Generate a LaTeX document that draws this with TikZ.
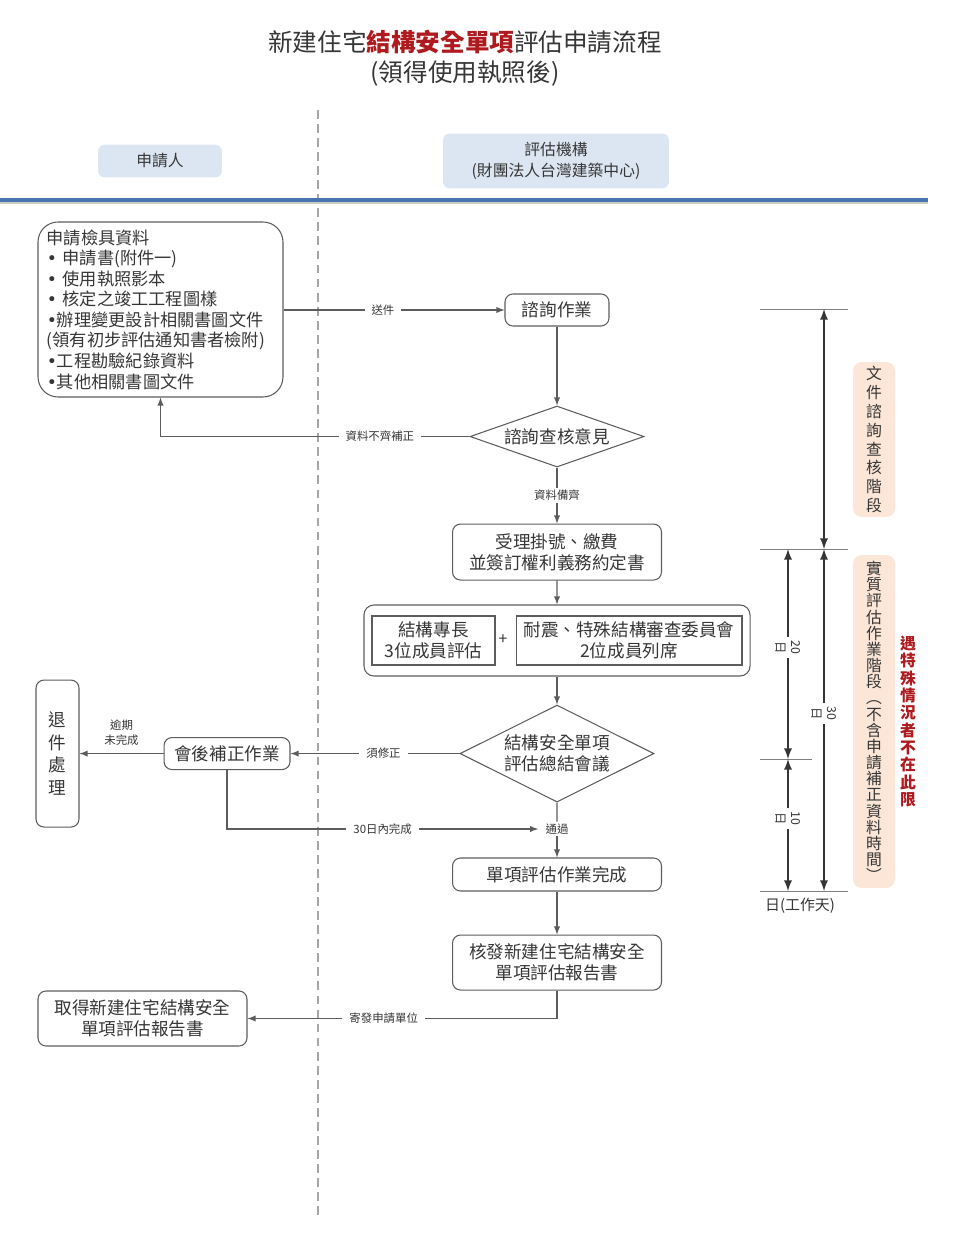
\documentclass[tikz,border=0pt]{standalone}
\usepackage{fontspec}
\setmainfont{Noto Sans CJK TC}
\newfontfamily\bulletfont{DejaVu Sans}
\newcommand{\bul}{{\bulletfont •}}
\usetikzlibrary{shapes.geometric, arrows, positioning, fit}
\definecolor{inkgray}{HTML}{363636}
\definecolor{linegray}{HTML}{5C5C5C}
\definecolor{laneblue}{HTML}{DCE6F2}
\definecolor{ruleblue}{HTML}{4A76B0}
\definecolor{phasepeach}{HTML}{FBE6D8}
\definecolor{alertred}{HTML}{AE1A1E}
\tikzstyle{lanehead} = [rectangle, rounded corners=4pt, fill=laneblue, text=inkgray, align=center, font=\fontsize{9}{12}\selectfont]
\tikzstyle{process} = [rectangle, rounded corners=0.16cm, draw=linegray, line width=0.6pt, text=inkgray, align=center, inner sep=0pt, font=\fontsize{10}{12}\selectfont]
\tikzstyle{member} = [rectangle, draw=linegray, line width=0.6pt, text=inkgray, align=center, inner sep=0pt, minimum height=0.98cm, font=\fontsize{10}{12}\selectfont]
\tikzstyle{decision} = [diamond, draw=linegray, line width=0.6pt, text=inkgray, align=center, inner sep=0pt, font=\fontsize{10}{12}\selectfont]
\tikzstyle{arrow} = [line width=0.6pt, draw=linegray, ->, >=latex]
\tikzstyle{flowlabel} = [fill=white, text=inkgray, inner xsep=4pt, inner ysep=1pt, align=center, font=\fontsize{6.5}{8.5}\selectfont]
\tikzstyle{dayspan} = [line width=1.1pt, draw=inkgray, <->, >=latex]
\tikzstyle{daytick} = [line width=0.5pt, draw=gray]
\tikzstyle{daylabel} = [fill=white, rotate=-90, text=inkgray, align=center, inner sep=2pt, font=\fontsize{7}{8}\selectfont]
\tikzstyle{phase} = [rectangle, rounded corners=5pt, fill=phasepeach, text=inkgray, align=center, minimum width=0.84cm, inner ysep=0pt]

\begin{document}
\begin{tikzpicture}[x=0.02cm, y=-0.02cm]
\useasboundingbox (0,0) rectangle (957,1253);

% Title
\node (title) [align=center, text=inkgray, font=\fontsize{14}{17}\selectfont] at (465,58)
    {新建住宅{\bfseries\color{alertred}結構安全單項}評估申請流程\\(領得使用執照後)};

% Lanes
\draw[dashed, gray!70, line width=0.6pt, dash pattern=on 5pt off 3pt] (318,110) -- (318,1220);
\node (applicant) [lanehead, minimum width=2.48cm, minimum height=0.66cm] at (160,161) {申請人};
\node (agency) [lanehead, minimum width=4.52cm, minimum height=1.1cm] at (556,161) {評估機構\\(財團法人台灣建築中心)};
\draw[gray!40, line width=1.2pt] (0,203) -- (928,203);
\draw[ruleblue, line width=1.8pt] (0,200) -- (928,200);

% Application documents
\node (docs) [process, rounded corners=0.4cm, minimum width=4.9cm, minimum height=3.5cm, text width=4.55cm, align=left, font=\fontsize{9.8}{11.7}\selectfont] at (160.5,309.5) {
    申請檢具資料\\
    \bul{} 申請書(附件一)\\
    \bul{} 使用執照影本\\
    \bul{} 核定之竣工工程圖樣\\
    \bul 辦理變更設計相關書圖文件\\
    (領有初步評估通知書者檢附)\\
    \bul 工程勘驗紀錄資料\\
    \bul 其他相關書圖文件
};

% Consultation
\node (consult) [process, minimum width=2.08cm, minimum height=0.64cm] at (557,310) {諮詢作業};
\node (check1) [decision, aspect=2.85, minimum width=3.48cm, minimum height=1.22cm, below=1.58cm of consult] {諮詢查核意見};
\node (accept) [process, minimum width=4.18cm, minimum height=1.12cm, below=1.12cm of check1] {受理掛號、繳費\\並簽訂權利義務約定書};

% Review members
\node (expert) [member, minimum width=2.46cm] at (433.5,640.5) {結構專長\\3位成員評估};
\node (committee) [member, minimum width=4.52cm, right=0.4cm of expert] {耐震、特殊結構審查委員會\\2位成員列席};
\node (plus) [text=inkgray, font=\fontsize{9}{10}\selectfont] at (503,640) {+};
\node (panel) [rectangle, rounded corners=0.2cm, draw=linegray, line width=0.6pt, inner xsep=0.15cm, inner ysep=0.21cm, fit=(expert)(committee)] {};

% Summary meeting
\node (check2) [decision, aspect=2, minimum width=3.88cm, minimum height=1.94cm, below=0.56cm of panel] {結構安全單項\\評估總結會議};
\node (revise) [process, minimum width=2.52cm, minimum height=0.64cm, left=3.38cm of check2] {會後補正作業};
\node (reject) [process, minimum width=0.86cm, minimum height=2.94cm, left=1.68cm of revise, font=\fontsize{10}{13}\selectfont] {退\\件\\處\\理};
\node (passed) [flowlabel] at (557,829) {通過};
\node (done) [process, minimum width=4.18cm, minimum height=0.66cm] at (557,874.5) {單項評估作業完成};
\node (issue) [process, minimum width=4.18cm, minimum height=1.1cm, below=0.86cm of done] {核發新建住宅結構安全\\單項評估報告書};
\node (obtain) [process, minimum width=4.18cm, minimum height=1.1cm] at (142.5,1018.5) {取得新建住宅結構安全\\單項評估報告書};

% Connectors
\draw[arrow] (docs.east |- consult.west) -- node[flowlabel, pos=0.45] {送件} (consult.west);
\draw[arrow] (consult) -- (check1);
\draw[arrow] (check1.west) -- node[flowlabel, pos=0.29] {資料不齊補正} (docs.south |- check1.west) -- (docs.south);
\draw[arrow] (check1) -- node[flowlabel] {資料備齊} (accept);
\draw[arrow] (accept) -- (panel);
\draw[arrow] (panel) -- (check2);
\draw[arrow] (check2.west) -- node[flowlabel, pos=0.45] {須修正} (revise.east);
\draw[arrow] (revise.west) -- node[flowlabel, above=0.12cm, midway] {逾期\\未完成} (reject.east);
\draw[arrow] (revise.south) |- node[flowlabel, pos=0.75] {30日內完成} (passed.west);
\draw[line width=0.6pt, draw=linegray] (check2.south) -- (passed);
\draw[arrow] (passed) -- (done);
\draw[arrow] (done) -- (issue);
\draw[arrow] (issue.south) |- node[flowlabel, pos=0.78] {寄發申請單位} (obtain.east);

% Working-day scale
\coordinate (d0) at (824,309);
\coordinate (d1) at (824,549);
\coordinate (d2) at (824,891);
\coordinate (e1) at (788,549);
\coordinate (e2) at (788,759);
\coordinate (e3) at (788,891);
\draw[daytick] (760,309) -- (848,309);
\draw[daytick] (760,549) -- (848,549);
\draw[daytick] (760,759) -- (812,759);
\draw[daytick] (760,891) -- (848,891);
\draw[dayspan] (d0) -- (d1);
\draw[dayspan] (d1) -- node[daylabel, pos=0.48] {30\\日} (d2);
\draw[dayspan] (e1) -- node[daylabel, pos=0.47] {20\\日} (e2);
\draw[dayspan] (e2) -- node[daylabel, pos=0.45] {10\\日} (e3);
\node (workday) [text=inkgray, font=\fontsize{8.5}{10}\selectfont] at (800,906) {日(工作天)};

% Phases
\node (phase1) [phase, minimum height=3.1cm, font=\fontsize{9}{10.8}\selectfont] at (874,439.5)
    {文\\件\\諮\\詢\\查\\核\\階\\段};
\node (phase2) [phase, minimum height=6.66cm, font=\fontsize{9}{9.2}\selectfont] at (874,721.5)
    {實\\質\\評\\估\\作\\業\\階\\段\\︵\\不\\含\\申\\請\\補\\正\\資\\料\\時\\間\\︶};
\node (exception) [text=alertred, align=center, font=\bfseries\fontsize{9}{9.9}\selectfont] at (908,721.5)
    {遇\\特\\殊\\情\\況\\者\\不\\在\\此\\限};

\end{tikzpicture}
\end{document}
